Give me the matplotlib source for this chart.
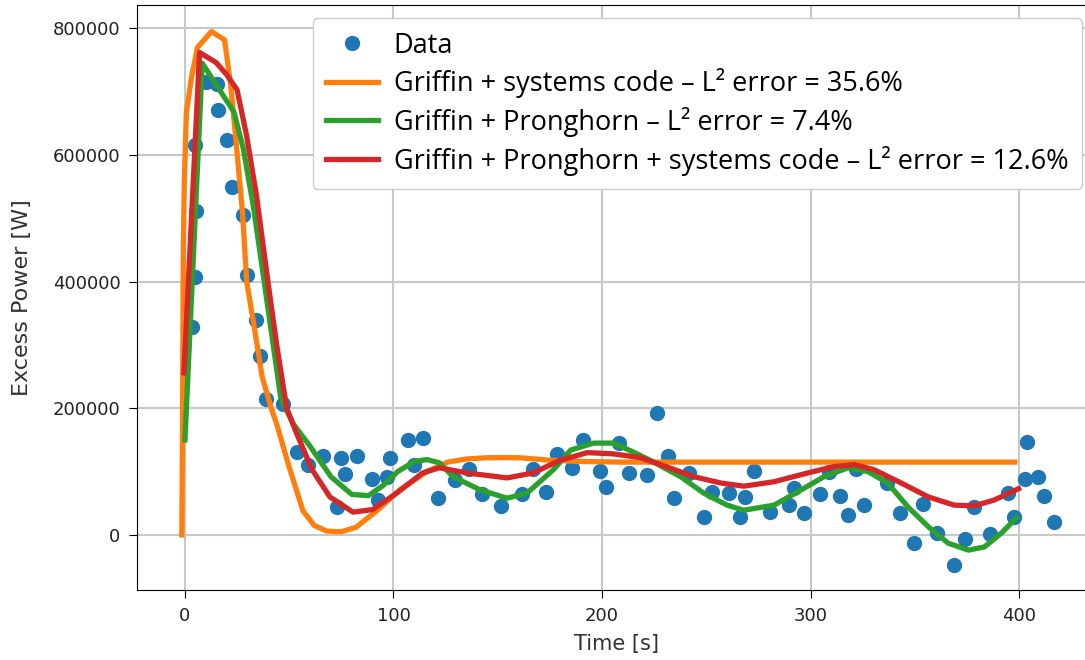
import matplotlib
matplotlib.use('Agg')
import matplotlib.pyplot as plt
import numpy as np

# measured data (time in s, power in kW)
data_t = [3.6, 4.6, 5.2, 4.6, 9.9, 15.5, 16, 20, 22.4, 27.6, 29.6, 34, 36, 39, 47,
          53.6, 59, 66, 73, 75, 76.7, 82.5, 89.6, 92.6, 96.7, 98.3, 107, 110, 114,
          121.5, 129.5, 136, 142.5, 151.5, 161.6, 167, 173, 178.5, 185.5, 191, 199,
          202, 208, 213, 221.6, 226.6, 231.5, 234.5, 241.6, 248.8, 253, 260.8, 266,
          268.8, 273, 280.5, 289.6, 292, 297, 304.5, 309, 314, 318, 322, 325.8,
          336.8, 343, 349.5, 354, 360.5, 369, 374, 378.6, 386, 394.8, 397.8, 403,
          404, 409, 412, 416.6]
data_p = [329, 408, 511, 616, 716, 713, 671, 624, 550, 505, 410, 340, 282, 214, 207,
          131, 111, 125, 44, 122, 97, 125, 88, 55, 92, 122, 150, 110, 153,
          58, 87, 104, 65, 46, 65, 104, 68, 128, 106, 150, 101,
          76, 145, 98, 95, 193, 125, 58, 98, 28, 68, 66, 28,
          60, 101, 36, 47, 74, 35, 64, 100, 62, 32, 104, 47,
          82, 35, -13, 49, 3, -47, -6, 44, 2, 66, 28, 88,
          147, 92, 61, 21]

# Griffin + systems code
sys_t = [-1.5, -1.2, -1, -0.8, -0.3, 0.7, 3, 6, 12.7, 19, 22, 25, 27.7, 29.6, 33.4,
         37, 41.4, 44, 50, 56.6, 62, 68, 75, 82, 92, 103, 116, 126, 135, 145, 160,
         175, 190, 210, 250, 300, 350, 398]
sys_p = [0, 150, 300, 450, 560, 667, 720, 770, 795, 782, 708, 604, 505, 400, 325,
         250, 200, 175, 107, 38, 15, 6, 5, 12, 38, 71, 100, 115, 120, 122, 122,
         118, 116, 115, 115, 115, 115, 115]

# Griffin + Pronghorn
pr_t = [0, 8.3, 23.5, 28, 33, 38, 46, 52, 60, 70, 80, 88, 95, 102, 110, 116, 122,
        128.6, 141.6, 154.5, 164, 176.7, 185, 196, 205.5, 215, 224.8, 237.7, 248.8,
        260, 268, 282.5, 295.5, 306.5, 318, 327.6, 337, 346.8, 356.5, 366, 375.7,
        383.4, 391.6, 398.8]
pr_p = [150, 745, 668, 610, 515, 400, 215, 175, 140, 92, 64, 62, 78, 100, 116, 119,
        114, 92, 71, 58, 66, 103, 134, 145, 145, 131, 115, 92, 66,
        47, 39, 47, 71, 92, 106, 100, 82, 44, 13, -13, -24,
        -19, 3, 27]

# Griffin + Pronghorn + systems code
full_t = [-0.5, 7, 15, 20, 25, 29.6, 34.4, 39.8, 44, 48.8, 53.6, 61, 69.5, 80.6, 90,
          101.5, 114, 122, 135, 154.5, 167, 180, 193, 205.5, 218.5, 231.5, 244, 257,
          268, 282.5, 298.8, 311.3, 321, 330.5, 343.5, 356.5, 369, 378.6, 388, 399.8]
full_p = [256, 762, 746, 727, 703, 630, 534, 400, 300, 200, 160, 103, 60, 36, 40,
          66, 98, 106, 98, 90, 98, 118, 130, 128, 122, 107, 92, 82,
          77, 84, 98, 108, 111, 103, 82, 60, 47, 46, 55, 73]

labels = ['Data',
          'Griffin + systems code \u2013 L\u00b2 error = 35.6%',
          'Griffin + Pronghorn \u2013 L\u00b2 error = 7.4%',
          'Griffin + Pronghorn + systems code \u2013 L\u00b2 error = 12.6%']

fig = plt.figure(figsize=(10.85, 6.6), dpi=100)
# axes run past the right edge of the picture (the original is cropped there)
ax = fig.add_axes([137/1085, 70/660, 960/1085, 585/660])

ax.plot(data_t, np.array(data_p)*1000, 'o', color='#1f77b4', markersize=10, label=labels[0])
ax.plot(sys_t, np.array(sys_p)*1000, color='#ff7f0e', lw=3.8, label=labels[1])
ax.plot(pr_t, np.array(pr_p)*1000, color='#2ca02c', lw=3.8, label=labels[2])
ax.plot(full_t, np.array(full_p)*1000, color='#d62728', lw=3.8, label=labels[3])

ax.set_xlim(-23, 437.4)
ax.set_ylim(-87000, 837000)
ax.set_xticks([0, 100, 200, 300, 400])
ax.set_yticks([0, 200000, 400000, 600000, 800000])
ax.tick_params(labelsize=13, length=6, pad=6, labelcolor='#222222')
ax.grid(True, color='#c8c8c8', lw=1.5)
ax.set_xlabel('Time [s]', fontsize=15, labelpad=7, color='#333333')
ax.set_ylabel('Excess Power [W]', fontsize=16, labelpad=15, color='#333333')

leg = ax.legend(loc='upper right', bbox_to_anchor=(1082/1085, 1-18/660),
                bbox_transform=fig.transFigure,
                prop={'family': 'Open Sans', 'size': 19.5}, handlelength=1.9,
                handletextpad=0.6, labelspacing=0.32, borderpad=0.5,
                borderaxespad=0, framealpha=1)

fig.savefig('out.png', dpi=100)
